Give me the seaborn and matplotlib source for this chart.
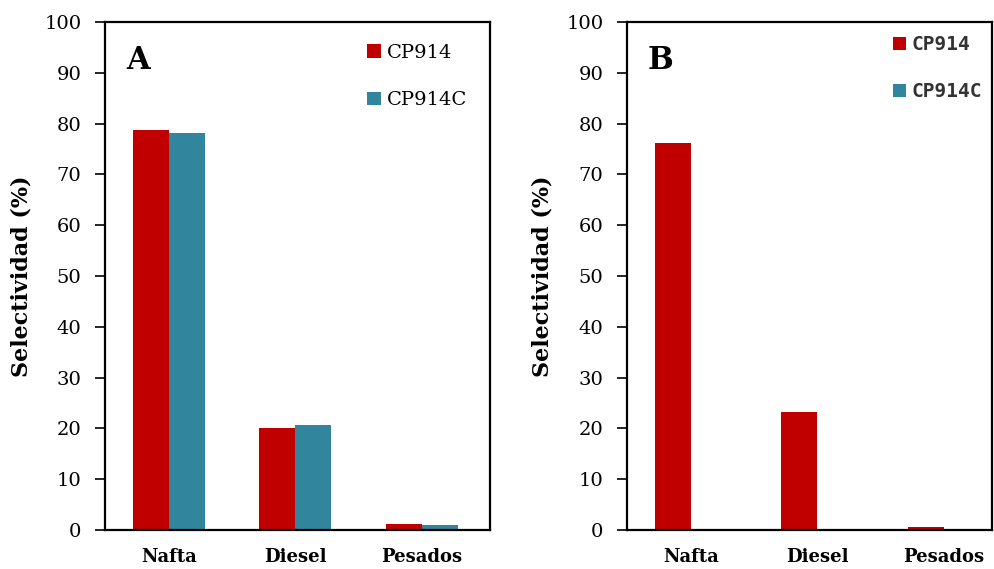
import matplotlib
matplotlib.use("Agg")
import matplotlib.pyplot as plt
import seaborn as sns
import pandas as pd

categories = ["Nafta", "Diesel", "Pesados"]
series = ["CP914", "CP914C"]
a_cp914 = [78.8, 20.0, 1.1]
a_cp914c = [78.2, 20.7, 1.0]
b_cp914 = [76.2, 23.2, 0.5]
b_cp914c = [0.0, 0.0, 0.0]
colors = ["#C00000", "#31859C"]
yticks = list(range(0, 101, 10))

sns.set_theme(style="white")
plt.rcParams['font.family'] = ['DejaVu Serif']
plt.rcParams['text.color'] = 'black'
plt.rcParams['axes.labelcolor'] = 'black'
plt.rcParams['xtick.color'] = 'black'
plt.rcParams['ytick.color'] = 'black'

def make_df(v1, v2):
    rows = []
    for c, a, b in zip(categories, v1, v2):
        rows.append({"cat": c, "serie": series[0], "val": a})
        rows.append({"cat": c, "serie": series[1], "val": b})
    return pd.DataFrame(rows)

fig = plt.figure(figsize=(9.95, 5.69), dpi=100)
ax1 = fig.add_axes([105/995, 1-530/569, 385/995, 508/569])
ax2 = fig.add_axes([627/995, 1-530/569, 365/995, 508/569])

for ax, df, letter, legfont, lblx, xl in [
        (ax1, make_df(a_cp914, a_cp914c), "A", None, (33-105)/385, (-0.506, 2.54)),
        (ax2, make_df(b_cp914, b_cp914c), "B", "mono", (554-627)/365, (-0.506, 2.38))]:
    sns.barplot(data=df, x="cat", y="val", hue="serie", palette=colors,
                width=0.57, ax=ax, saturation=1, errorbar=None, order=categories,
                hue_order=series, linewidth=0)
    ax.set_xlim(*xl)
    ax.set_ylim(0, 100)
    ax.set_yticks(yticks)
    ax.set_yticklabels([str(t) for t in yticks], fontsize=14)
    ax.set_xticks(range(3))
    ax.set_xticklabels(categories, fontsize=13, fontweight="bold")
    ax.set_xlabel("")
    ax.set_ylabel("Selectividad (%)", fontsize=16, fontweight="bold")
    ax.yaxis.set_label_coords(lblx, 0.5)
    for s in ax.spines.values():
        s.set_visible(True)
        s.set_color("black")
        s.set_linewidth(1.6)
    ax.tick_params(axis="y", direction="out", length=7, width=1.2, colors="black",
                   left=True, pad=10)
    ax.tick_params(axis="x", length=0, pad=13)
    ax.text(0.055, 0.955, letter, transform=ax.transAxes, fontsize=22,
            fontweight="bold", va="top", ha="left")
    handles, labels = ax.get_legend_handles_labels()
    if legfont == "mono":
        prop = {"family": "DejaVu Sans Mono", "size": 14, "weight": "bold"}
        leg = ax.legend(handles, labels, loc="upper right", frameon=False, prop=prop,
                        handlelength=0.65, handleheight=0.65, labelspacing=1.45,
                        handletextpad=0.3, borderaxespad=0.0,
                        bbox_to_anchor=(0.995, 0.99))
        for t in leg.get_texts():
            t.set_color("#333333")
    else:
        prop = {"size": 14}
        leg = ax.legend(handles, labels, loc="upper right", frameon=False, prop=prop,
                        handlelength=0.7, handleheight=0.7, labelspacing=1.5,
                        handletextpad=0.35, borderaxespad=0.0,
                        bbox_to_anchor=(0.962, 0.972))

fig.savefig("out.png", dpi=100)
